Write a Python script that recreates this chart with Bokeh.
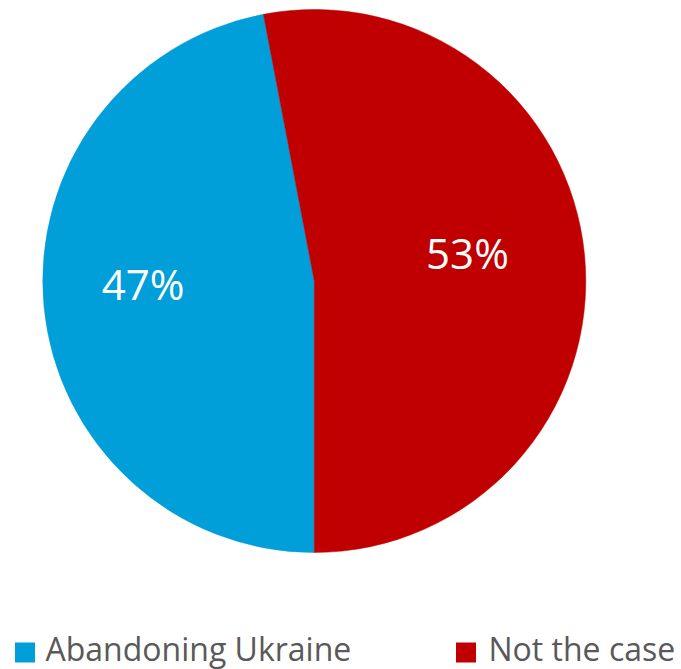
import math
from bokeh.plotting import figure
from bokeh.models import Range1d, ColumnDataSource
from bokeh.core.properties import value
from bokeh.embed import file_html
from bokeh.resources import INLINE

# ---- data ----
categories = ["Abandoning Ukraine", "Not the case"]
shares = [47, 53]
labels = ["47%", "53%"]
colors = ["#009FD9", "#C00000"]

# ---- layout (data x = picture x, data y = -picture y) ----
W, H = 681, 669
cx, cy, R = 313.8, -280.5, 271.5
first_angle_deg = 270.0  # first slice starts at the bottom, goes clockwise

p = figure(width=W, height=H, output_backend="svg", toolbar_location=None,
           x_range=Range1d(0, W), y_range=Range1d(-H, 0),
           min_border=0, outline_line_color=None)
p.axis.visible = False
p.grid.visible = False
p.background_fill_color = "white"
p.border_fill_color = "white"

total = float(sum(shares))
starts, ends, mids = [], [], []
a = math.radians(first_angle_deg)
for s in shares:
    span = 2 * math.pi * s / total
    starts.append(a)
    ends.append(a - span)
    mids.append(a - span / 2)
    a -= span

src = ColumnDataSource(dict(start=starts, end=ends, color=colors, cat=categories))
p.wedge(x=cx, y=cy, radius=R, start_angle="end", end_angle="start",
        direction="anticlock", fill_color="color", line_color="color",
        line_width=0.5, source=src)

frac = 0.6
lx = [cx + frac * R * math.cos(m) for m in mids]
ly = [cy + frac * R * math.sin(m) for m in mids]
p.text(x=lx, y=ly, text=labels, text_color="white",
       text_font=value("Open Sans"), text_font_size="42px",
       text_align="center", text_baseline="middle", x_offset=-9, y_offset=-13)

# ---- legend ----
sq_x = [24.5, 465.5]
txt_x = [45, 488]
p.rect(x=sq_x, y=[-652] * 2, width=20, height=20, fill_color=colors,
       line_color=None)
p.text(x=txt_x, y=[-647.5] * 2, text=categories, text_color="#595959",
       text_font=value("Open Sans"), text_font_size="32px",
       text_align="left", text_baseline="middle")

open("out.html", "w").write(file_html(p, INLINE))
